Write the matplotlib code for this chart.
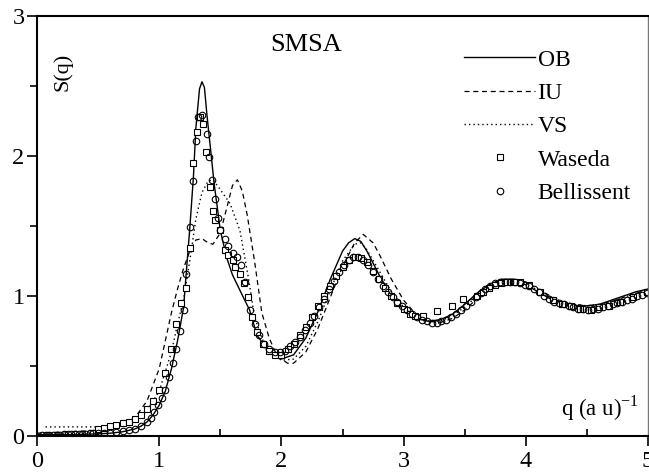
import matplotlib
matplotlib.use("Agg")
import matplotlib.pyplot as plt
from matplotlib.ticker import MultipleLocator

plt.rcParams['font.family'] = ['Liberation Serif', 'DejaVu Serif']

# ---- data ----
ob_q = [0.0, 0.3, 0.5, 0.6, 0.7, 0.8, 0.85, 0.9, 0.95, 1.0, 1.05, 1.1, 1.15, 1.2, 1.22, 1.25, 1.28,
        1.30, 1.33, 1.35, 1.37, 1.39, 1.42, 1.45, 1.5, 1.55, 1.6, 1.7, 1.74, 1.8, 1.9, 2.0, 2.1, 2.2,
        2.3, 2.4, 2.5, 2.55, 2.6, 2.65, 2.7, 2.8, 2.9, 3.0, 3.1, 3.2, 3.3, 3.4, 3.5, 3.6, 3.7, 3.8,
        3.9, 4.0, 4.1, 4.2, 4.3, 4.4, 4.5, 4.6, 4.7, 4.8, 4.9, 5.0]
ob_s = [0.01, 0.01, 0.015, 0.02, 0.03, 0.05, 0.07, 0.10, 0.15, 0.22, 0.32, 0.48, 0.68, 0.92, 1.15, 1.48, 1.85,
        2.2, 2.48, 2.53, 2.49, 2.3, 2.05, 1.8, 1.47, 1.28, 1.15, 0.97, 0.90, 0.72, 0.60, 0.55, 0.58, 0.70,
        0.89, 1.12, 1.32, 1.38, 1.41, 1.39, 1.32, 1.15, 1.00, 0.90, 0.84, 0.82, 0.83, 0.87, 0.94, 1.02, 1.08, 1.12,
        1.12, 1.08, 1.03, 0.98, 0.95, 0.93, 0.93, 0.94, 0.97, 1.00, 1.03, 1.05]

iu_q = [0.0, 0.5, 0.7, 0.8, 0.9, 1.0, 1.05, 1.1, 1.15, 1.2, 1.25, 1.3, 1.35, 1.4, 1.44, 1.5, 1.55, 1.6,
        1.64, 1.68, 1.72, 1.78, 1.84, 1.9, 1.95, 2.0, 2.05, 2.1, 2.2, 2.3, 2.4, 2.5, 2.6, 2.67, 2.75,
        2.8, 2.9, 3.0, 3.1, 3.2, 3.3, 3.4, 3.5, 3.6, 3.7, 3.8, 3.9, 4.0, 4.1, 4.2, 4.3, 4.4, 4.5, 4.6,
        4.7, 4.8, 4.9, 5.0]
iu_s = [0.02, 0.04, 0.08, 0.13, 0.25, 0.48, 0.68, 0.88, 1.05, 1.2, 1.32, 1.4, 1.41, 1.38, 1.37, 1.45, 1.62, 1.79,
        1.83, 1.75, 1.58, 1.25, 0.88, 0.70, 0.60, 0.55, 0.52, 0.52, 0.60, 0.77, 0.99, 1.21, 1.38, 1.44, 1.38,
        1.30, 1.12, 0.97, 0.87, 0.82, 0.81, 0.84, 0.90, 0.98, 1.05, 1.10, 1.12, 1.10, 1.05, 1.00, 0.96, 0.94, 0.93, 0.94,
        0.96, 0.99, 1.02, 1.04]

vs_q = [0.07, 0.5, 0.6, 0.7, 0.8, 0.9, 1.0, 1.1, 1.15, 1.2, 1.25, 1.3, 1.35, 1.4, 1.44, 1.5, 1.58, 1.66,
        1.73, 1.78, 1.85, 1.9, 2.0, 2.1, 2.2, 2.3, 2.4, 2.5, 2.6, 2.65, 2.7, 2.8, 2.9, 3.0, 3.1, 3.2,
        3.3, 3.4, 3.5, 3.6, 3.7, 3.8, 3.9, 4.0, 4.1, 4.2, 4.3, 4.4, 4.5, 4.6, 4.7, 4.8, 4.9, 5.0]
vs_s = [0.065, 0.065, 0.07, 0.08, 0.11, 0.18, 0.32, 0.60, 0.80, 0.98, 1.25, 1.55, 1.74, 1.82, 1.83, 1.76, 1.66, 1.47,
        1.13, 0.85, 0.68, 0.60, 0.54, 0.55, 0.64, 0.82, 1.04, 1.25, 1.37, 1.38, 1.33, 1.18, 1.03, 0.92, 0.85, 0.82,
        0.82, 0.86, 0.92, 1.00, 1.06, 1.10, 1.11, 1.09, 1.04, 0.99, 0.96, 0.94, 0.93, 0.94, 0.96, 0.99, 1.02, 1.04]

waseda_q = [0.50, 0.55, 0.60, 0.65, 0.70, 0.75, 0.80, 0.85, 0.90, 0.95, 1.00, 1.05, 1.10, 1.14, 1.18, 1.22,
            1.25, 1.28, 1.31, 1.33, 1.36, 1.38, 1.415, 1.44, 1.46, 1.50, 1.54, 1.56, 1.60, 1.62, 1.66, 1.69,
            1.73, 1.76, 1.80, 1.85, 1.90, 1.95, 2.00, 2.05, 2.10, 2.15, 2.20, 2.25, 2.30, 2.35, 2.40, 2.45,
            2.50, 2.55, 2.60, 2.65, 2.70, 2.75, 2.80, 2.85, 2.90, 2.95, 3.00, 3.05, 3.09, 3.16, 3.27, 3.40,
            3.49, 3.60, 3.65, 3.70, 3.75, 3.80, 3.85, 3.90, 3.95, 4.03, 4.12, 4.22, 4.30, 4.37, 4.44, 4.53,
            4.60, 4.68, 4.77, 4.88, 4.99]
waseda_s = [0.05, 0.06, 0.07, 0.08, 0.09, 0.10, 0.12, 0.15, 0.19, 0.25, 0.33, 0.45, 0.62, 0.80, 0.95, 1.06,
            1.34, 1.95, 2.17, 2.28, 2.23, 2.03, 1.78, 1.61, 1.54, 1.47, 1.33, 1.29, 1.26, 1.21, 1.16, 1.09,
            0.99, 0.85, 0.74, 0.66, 0.61, 0.58, 0.58, 0.62, 0.66, 0.72, 0.78, 0.85, 0.93, 1.00, 1.07, 1.14,
            1.21, 1.26, 1.28, 1.27, 1.24, 1.18, 1.12, 1.06, 1.00, 0.95, 0.91, 0.87, 0.86, 0.86, 0.89, 0.93,
            0.98, 1.00, 1.03, 1.06, 1.08, 1.09, 1.10, 1.10, 1.10, 1.08, 1.03, 0.97, 0.94, 0.93, 0.91, 0.90,
            0.92, 0.93, 0.96, 0.99, 1.03]

bell_q = [0.04, 0.07, 0.10, 0.13, 0.16, 0.19, 0.22, 0.25, 0.28, 0.31, 0.34, 0.37, 0.40, 0.43, 0.46,
          0.50, 0.55, 0.60, 0.65, 0.70, 0.75, 0.80, 0.85, 0.90, 0.93, 0.96, 0.99,
          1.02, 1.05, 1.08, 1.11, 1.14, 1.17, 1.20, 1.22, 1.25, 1.28, 1.30, 1.32, 1.35, 1.39, 1.41, 1.43,
          1.46, 1.48, 1.50, 1.54, 1.56, 1.60, 1.64, 1.67, 1.70, 1.74, 1.78, 1.82, 1.86, 1.90, 1.95, 1.99,
          2.03, 2.07, 2.11, 2.15, 2.19, 2.23, 2.27, 2.31, 2.35, 2.39, 2.43, 2.47, 2.51, 2.55, 2.59, 2.63,
          2.67, 2.71, 2.75, 2.79, 2.83, 2.87, 2.91, 2.95, 2.99, 3.03, 3.07, 3.11, 3.15, 3.19, 3.23, 3.27,
          3.31, 3.35, 3.39, 3.43, 3.47, 3.51, 3.55, 3.59, 3.63, 3.67, 3.71, 3.75, 3.79, 3.83, 3.87, 3.91,
          3.95, 3.99, 4.03, 4.07, 4.11, 4.15, 4.19, 4.23, 4.27, 4.31, 4.35, 4.39, 4.43, 4.47, 4.51, 4.55,
          4.59, 4.63, 4.67, 4.71, 4.75, 4.79, 4.83, 4.87, 4.91, 4.95, 4.99]
bell_s = [0.01, 0.01, 0.01, 0.01, 0.01, 0.01, 0.012, 0.012, 0.012, 0.015, 0.015, 0.015, 0.015, 0.018, 0.018,
          0.02, 0.02, 0.025, 0.03, 0.035, 0.04, 0.05, 0.07, 0.10, 0.13, 0.17, 0.22,
          0.27, 0.33, 0.42, 0.52, 0.62, 0.75, 0.90, 1.16, 1.49, 1.82, 2.11, 2.28, 2.29, 2.16, 1.99, 1.83,
          1.69, 1.56, 1.47, 1.41, 1.36, 1.31, 1.28, 1.22, 1.10, 0.90, 0.80, 0.72, 0.66, 0.62, 0.60, 0.60,
          0.61, 0.64, 0.67, 0.71, 0.76, 0.81, 0.86, 0.92, 0.98, 1.05, 1.11, 1.17, 1.22, 1.26, 1.28, 1.28,
          1.26, 1.22, 1.17, 1.12, 1.07, 1.03, 0.99, 0.96, 0.93, 0.90, 0.87, 0.85, 0.83, 0.82, 0.81, 0.81,
          0.82, 0.83, 0.85, 0.87, 0.90, 0.93, 0.96, 0.99, 1.02, 1.05, 1.07, 1.09, 1.10, 1.10, 1.10, 1.10,
          1.09, 1.08, 1.07, 1.05, 1.03, 1.00, 0.98, 0.96, 0.95, 0.94, 0.93, 0.92, 0.91, 0.91, 0.90, 0.91,
          0.91, 0.92, 0.93, 0.94, 0.95, 0.96, 0.97, 0.98, 1.00, 1.01, 1.02]

x_ticks = [0, 1, 2, 3, 4, 5]
y_ticks = [0, 1, 2, 3]

# ---- figure ----
fig = plt.figure(figsize=(6.49, 4.76), dpi=100)
ax = fig.add_axes([37/649, 40/476, 611/649, 420/476])

ax.plot(ob_q, ob_s, '-', color='black', lw=1.0, label='OB')
ax.plot(iu_q, iu_s, '--', color='black', lw=0.9, dashes=(4, 3), label='IU')
ax.plot(vs_q, vs_s, ':', color='black', lw=1.0, dashes=(1, 2.2), label='VS')
ax.plot(waseda_q, waseda_s, 's', ms=4.7, mfc='white', mec='black', mew=0.8, label='Waseda')
ax.plot(bell_q, bell_s, 'o', ms=4.7, mfc='none', mec='black', mew=0.8, label='Bellissent')

ax.set_xlim(0, 5)
ax.set_ylim(0, 3)
ax.set_xticks(x_ticks)
ax.set_yticks(y_ticks)
ax.xaxis.set_minor_locator(MultipleLocator(0.5))
ax.yaxis.set_minor_locator(MultipleLocator(0.5))
ax.tick_params(axis='both', which='major', direction='out', length=7, width=1.2,
               labelsize=17.5)
ax.tick_params(axis='x', which='major', pad=4)
ax.tick_params(axis='y', which='major', pad=2)
ax.tick_params(axis='x', which='minor', direction='in', length=5, width=1.2)
ax.tick_params(axis='y', which='minor', direction='out', length=5, width=1.2)
for side in ['left', 'bottom', 'top']:
    ax.spines[side].set_linewidth(1.5)
ax.spines['right'].set_linewidth(1.0)
ax.spines['right'].set_color('#777777')

ax.text(2.2, 2.79, 'SMSA', fontsize=19, ha='center', va='center')
ax.text(0.21, 2.6, 'S(q)', fontsize=16, rotation=90, ha='center', va='center')
ax.text(4.29, 0.2, r'q (a u)$^{\mathregular{-1}}$', fontsize=16.5, ha='left', va='center')

leg = ax.legend(loc='upper right', bbox_to_anchor=(0.995, 0.955), frameon=False,
                fontsize=17, handlelength=3.0, handletextpad=0.1, labelspacing=0.5,
                markerfirst=True, borderaxespad=0.2)

fig.savefig('out.png', dpi=100)
